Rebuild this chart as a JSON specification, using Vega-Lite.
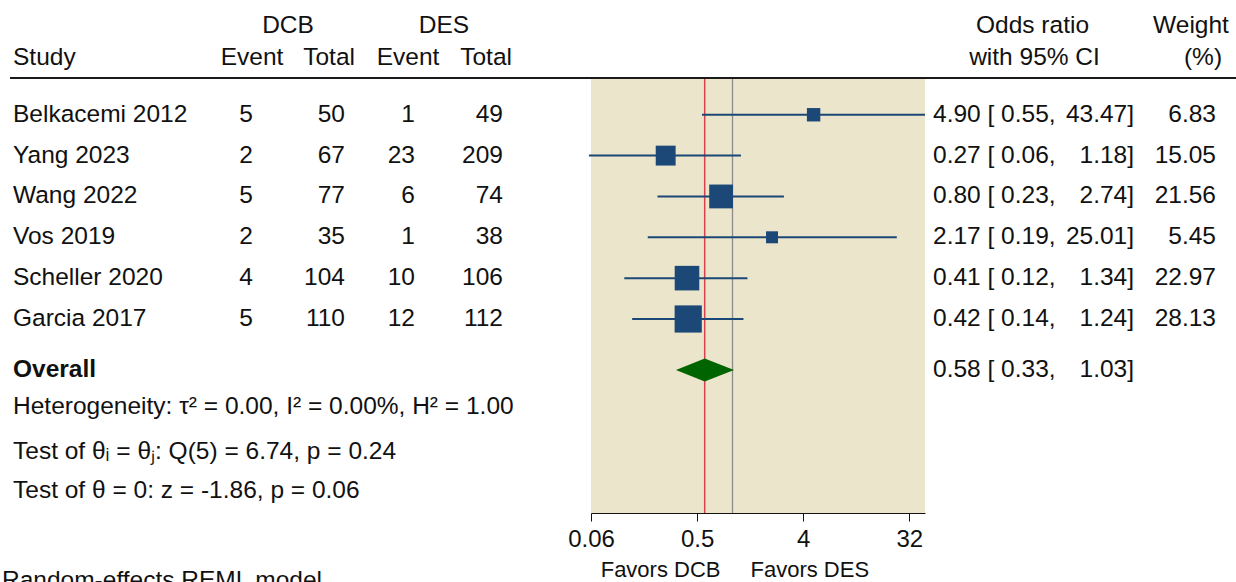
{
  "$schema": "https://vega.github.io/schema/vega-lite/v6.json",
  "padding": {"left": 2, "top": 13, "right": 0, "bottom": 0},
  "autosize": {"type": "pad"},
  "spacing": 0,
  "bounds": "flush",
  "datasets": {
    "one": [{"k": 1}],
    "table": [
      {"row": 1, "kind": "study", "label": "Belkacemi 2012", "dcb_event": 5, "dcb_total": 50, "des_event": 1, "des_total": 49, "or": 4.90, "lo": 0.55, "hi": 43.47, "weight": 6.83, "ci_label": "4.90 [ 0.55,", "hi_label": "43.47]"},
      {"row": 2, "kind": "study", "label": "Yang 2023", "dcb_event": 2, "dcb_total": 67, "des_event": 23, "des_total": 209, "or": 0.27, "lo": 0.06, "hi": 1.18, "weight": 15.05, "ci_label": "0.27 [ 0.06,", "hi_label": "1.18]"},
      {"row": 3, "kind": "study", "label": "Wang 2022", "dcb_event": 5, "dcb_total": 77, "des_event": 6, "des_total": 74, "or": 0.80, "lo": 0.23, "hi": 2.74, "weight": 21.56, "ci_label": "0.80 [ 0.23,", "hi_label": "2.74]"},
      {"row": 4, "kind": "study", "label": "Vos 2019", "dcb_event": 2, "dcb_total": 35, "des_event": 1, "des_total": 38, "or": 2.17, "lo": 0.19, "hi": 25.01, "weight": 5.45, "ci_label": "2.17 [ 0.19,", "hi_label": "25.01]"},
      {"row": 5, "kind": "study", "label": "Scheller 2020", "dcb_event": 4, "dcb_total": 104, "des_event": 10, "des_total": 106, "or": 0.41, "lo": 0.12, "hi": 1.34, "weight": 22.97, "ci_label": "0.41 [ 0.12,", "hi_label": "1.34]"},
      {"row": 6, "kind": "study", "label": "Garcia 2017", "dcb_event": 5, "dcb_total": 110, "des_event": 12, "des_total": 112, "or": 0.42, "lo": 0.14, "hi": 1.24, "weight": 28.13, "ci_label": "0.42 [ 0.14,", "hi_label": "1.24]"},
      {"row": 7.25, "kind": "overall", "label": "Overall", "or": 0.58, "lo": 0.33, "hi": 1.03, "ci_label": "0.58 [ 0.33,", "hi_label": "1.03]"},
      {"row": 8.15, "kind": "stat", "label": "Heterogeneity: τ² = 0.00, I² = 0.00%, H² = 1.00"},
      {"row": 9.25, "kind": "stat", "label": "Test of θᵢ = θⱼ: Q(5) = 6.74, p = 0.24"},
      {"row": 10.2, "kind": "stat", "label": "Test of θ = 0: z = -1.86, p = 0.06"}
    ],
    "diamond": [
      {"x": 0.33, "ytop": 7.25, "ybot": 7.25},
      {"x": 0.58, "ytop": 6.97, "ybot": 7.53},
      {"x": 1.03, "ytop": 7.25, "ybot": 7.25}
    ],
    "nullline": [{"x": 1}]
  },
  "hconcat": [
    {
      "width": 180, "height": 435,
      "layer": [
        {"data": {"name": "one"}, "mark": {"type": "rule", "color": "#1a1a1a", "strokeWidth": 2}, "encoding": {"y": {"datum": 0.1, "type": "quantitative", "scale": {"domain": [0.1, 10.75], "reverse": true, "zero": false, "nice": false}, "axis": null}}},
        {"data": {"name": "one"}, "mark": {"type": "text", "text": "Study", "align": "left", "dx": 3}, "encoding": {"x": {"value": 0}, "y": {"datum": -0.38, "type": "quantitative"}}},
        {"data": {"name": "table"}, "transform": [{"filter": "datum.kind != 'overall'"}], "mark": {"type": "text", "align": "left", "dx": 3}, "encoding": {"x": {"value": 0}, "y": {"field": "row", "type": "quantitative"}, "text": {"field": "label"}}},
        {"data": {"name": "table"}, "transform": [{"filter": "datum.kind == 'overall'"}], "mark": {"type": "text", "align": "left", "dx": 3, "fontWeight": "bold"}, "encoding": {"x": {"value": 0}, "y": {"field": "row", "type": "quantitative"}, "text": {"field": "label"}}},
        {"data": {"name": "one"}, "mark": {"type": "text", "text": "Random-effects REML model", "align": "left", "dx": -8}, "encoding": {"x": {"value": 0}, "y": {"datum": 12.41, "type": "quantitative"}}}
      ]
    },
    {
      "width": 63, "height": 435,
      "layer": [
        {"data": {"name": "one"}, "mark": {"type": "rule", "color": "#1a1a1a", "strokeWidth": 2}, "encoding": {"y": {"datum": 0.1, "type": "quantitative", "scale": {"domain": [0.1, 10.75], "reverse": true, "zero": false, "nice": false}, "axis": null}}},
        {"data": {"name": "one"}, "mark": {"type": "text", "text": "Event", "align": "center", "dx": -1}, "encoding": {"x": {"value": "width"}, "y": {"datum": -0.38, "type": "quantitative"}}},
        {"data": {"name": "table"}, "transform": [{"filter": "datum.kind == 'study'"}], "mark": {"type": "text", "align": "right"}, "encoding": {"x": {"value": "width"}, "y": {"field": "row", "type": "quantitative"}, "text": {"field": "dcb_event", "type": "quantitative"}}}
      ]
    },
    {
      "width": 92, "height": 435,
      "layer": [
        {"data": {"name": "one"}, "mark": {"type": "rule", "color": "#1a1a1a", "strokeWidth": 2}, "encoding": {"y": {"datum": 0.1, "type": "quantitative", "scale": {"domain": [0.1, 10.75], "reverse": true, "zero": false, "nice": false}, "axis": null}}},
        {"data": {"name": "one"}, "mark": {"type": "text", "text": "DCB", "align": "center", "dx": -11}, "encoding": {"y": {"datum": -1.17, "type": "quantitative"}}},
        {"data": {"name": "one"}, "mark": {"type": "text", "text": "Total", "align": "right", "dx": 10}, "encoding": {"x": {"value": "width"}, "y": {"datum": -0.38, "type": "quantitative"}}},
        {"data": {"name": "table"}, "transform": [{"filter": "datum.kind == 'study'"}], "mark": {"type": "text", "align": "right"}, "encoding": {"x": {"value": "width"}, "y": {"field": "row", "type": "quantitative"}, "text": {"field": "dcb_total", "type": "quantitative"}}}
      ]
    },
    {
      "width": 70, "height": 435,
      "layer": [
        {"data": {"name": "one"}, "mark": {"type": "rule", "color": "#1a1a1a", "strokeWidth": 2}, "encoding": {"y": {"datum": 0.1, "type": "quantitative", "scale": {"domain": [0.1, 10.75], "reverse": true, "zero": false, "nice": false}, "axis": null}}},
        {"data": {"name": "one"}, "mark": {"type": "text", "text": "Event", "align": "center", "dx": -7}, "encoding": {"x": {"value": "width"}, "y": {"datum": -0.38, "type": "quantitative"}}},
        {"data": {"name": "table"}, "transform": [{"filter": "datum.kind == 'study'"}], "mark": {"type": "text", "align": "right"}, "encoding": {"x": {"value": "width"}, "y": {"field": "row", "type": "quantitative"}, "text": {"field": "des_event", "type": "quantitative"}}}
      ]
    },
    {
      "width": 88, "height": 435,
      "layer": [
        {"data": {"name": "one"}, "mark": {"type": "rule", "color": "#1a1a1a", "strokeWidth": 2}, "encoding": {"y": {"datum": 0.1, "type": "quantitative", "scale": {"domain": [0.1, 10.75], "reverse": true, "zero": false, "nice": false}, "axis": null}}},
        {"data": {"name": "one"}, "mark": {"type": "text", "text": "DES", "align": "center", "dx": -15}, "encoding": {"y": {"datum": -1.17, "type": "quantitative"}}},
        {"data": {"name": "one"}, "mark": {"type": "text", "text": "Total", "align": "right", "dx": 9}, "encoding": {"x": {"value": "width"}, "y": {"datum": -0.38, "type": "quantitative"}}},
        {"data": {"name": "table"}, "transform": [{"filter": "datum.kind == 'study'"}], "mark": {"type": "text", "align": "right"}, "encoding": {"x": {"value": "width"}, "y": {"field": "row", "type": "quantitative"}, "text": {"field": "des_total", "type": "quantitative"}}}
      ]
    },
    {
      "width": 88, "height": 435,
      "layer": [
        {"data": {"name": "one"}, "mark": {"type": "rule", "color": "#1a1a1a", "strokeWidth": 2}, "encoding": {"y": {"datum": 0.1, "type": "quantitative", "scale": {"domain": [0.1, 10.75], "reverse": true, "zero": false, "nice": false}, "axis": null}}}
      ]
    },
    {
      "width": 334, "height": 435,
      "view": {"fill": "#eae5cb", "stroke": null},
      "layer": [
        {"data": {"name": "nullline"}, "mark": {"type": "rule", "color": "#8c8c8c", "strokeWidth": 1.3}, "encoding": {"x": {"field": "x", "type": "quantitative", "scale": {"type": "log", "base": 2, "domain": [0.0625, 43.47], "nice": false}, "axis": {"values": [0.0625, 0.5, 4, 32], "labelExpr": "datum.value < 0.1 ? '0.06' : toString(datum.value)", "title": null, "grid": false, "tickSize": 8, "labelPadding": 6, "labelFontSize": 24, "labelFont": "Liberation Sans", "labelColor": "#111", "domainColor": "#111", "tickColor": "#111", "labelFlush": false, "labelOverlap": false}}}},
        {"data": {"name": "table"}, "transform": [{"filter": "datum.kind == 'overall'"}], "mark": {"type": "rule", "color": "#d9414f", "strokeWidth": 1.5}, "encoding": {"x": {"field": "or", "type": "quantitative", "axis": {"values": [0.0625, 0.5, 4, 32], "labelExpr": "datum.value < 0.1 ? '0.06' : toString(datum.value)", "title": null, "grid": false, "tickSize": 8, "labelPadding": 6, "labelFontSize": 24, "labelFont": "Liberation Sans", "labelColor": "#111", "domainColor": "#111", "tickColor": "#111", "labelFlush": false, "labelOverlap": false}}}},
        {"data": {"name": "one"}, "mark": {"type": "rule", "color": "#1a1a1a", "strokeWidth": 2}, "encoding": {"y": {"datum": 0.1, "type": "quantitative", "scale": {"domain": [0.1, 10.75], "reverse": true, "zero": false, "nice": false}, "axis": null}}},
        {"data": {"name": "table"}, "transform": [{"filter": "datum.kind == 'study'"}], "mark": {"type": "rule", "color": "#1c4877", "strokeWidth": 2}, "encoding": {"x": {"field": "lo", "type": "quantitative", "axis": {"values": [0.0625, 0.5, 4, 32], "labelExpr": "datum.value < 0.1 ? '0.06' : toString(datum.value)", "title": null, "grid": false, "tickSize": 8, "labelPadding": 6, "labelFontSize": 24, "labelFont": "Liberation Sans", "labelColor": "#111", "domainColor": "#111", "tickColor": "#111", "labelFlush": false, "labelOverlap": false}}, "x2": {"field": "hi"}, "y": {"field": "row", "type": "quantitative"}}},
        {"data": {"name": "table"}, "transform": [{"filter": "datum.kind == 'study'"}], "mark": {"type": "point", "shape": "square", "filled": true, "opacity": 1, "color": "#1c4877", "strokeWidth": 0}, "encoding": {"x": {"field": "or", "type": "quantitative", "axis": {"values": [0.0625, 0.5, 4, 32], "labelExpr": "datum.value < 0.1 ? '0.06' : toString(datum.value)", "title": null, "grid": false, "tickSize": 8, "labelPadding": 6, "labelFontSize": 24, "labelFont": "Liberation Sans", "labelColor": "#111", "domainColor": "#111", "tickColor": "#111", "labelFlush": false, "labelOverlap": false}}, "y": {"field": "row", "type": "quantitative"}, "size": {"field": "weight", "type": "quantitative", "scale": {"type": "linear", "domain": [0, 28.13], "range": [0, 740], "zero": true}, "legend": null}}},
        {"data": {"name": "diamond"}, "mark": {"type": "area", "orient": "vertical", "color": "#006400", "opacity": 1, "interpolate": "linear"}, "encoding": {"x": {"field": "x", "type": "quantitative", "axis": {"values": [0.0625, 0.5, 4, 32], "labelExpr": "datum.value < 0.1 ? '0.06' : toString(datum.value)", "title": null, "grid": false, "tickSize": 8, "labelPadding": 6, "labelFontSize": 24, "labelFont": "Liberation Sans", "labelColor": "#111", "domainColor": "#111", "tickColor": "#111", "labelFlush": false, "labelOverlap": false}}, "y": {"field": "ytop", "type": "quantitative"}, "y2": {"field": "ybot"}}},
        {"data": {"name": "one"}, "mark": {"type": "text", "text": "Favors DCB", "align": "right", "dx": -12, "fontSize": 22}, "encoding": {"x": {"datum": 1, "type": "quantitative"}, "y": {"datum": 12.15, "type": "quantitative"}}},
        {"data": {"name": "one"}, "mark": {"type": "text", "text": "Favors DES", "align": "left", "dx": 18, "fontSize": 22}, "encoding": {"x": {"datum": 1, "type": "quantitative"}, "y": {"datum": 12.15, "type": "quantitative"}}}
      ]
    },
    {
      "width": 209, "height": 435,
      "layer": [
        {"data": {"name": "one"}, "mark": {"type": "rule", "color": "#1a1a1a", "strokeWidth": 2}, "encoding": {"y": {"datum": 0.1, "type": "quantitative", "scale": {"domain": [0.1, 10.75], "reverse": true, "zero": false, "nice": false}, "axis": null}}},
        {"data": {"name": "one"}, "mark": {"type": "text", "text": "Odds ratio", "align": "center", "dx": 3}, "encoding": {"y": {"datum": -1.17, "type": "quantitative"}}},
        {"data": {"name": "one"}, "mark": {"type": "text", "text": "with 95% CI", "align": "center", "dx": 5}, "encoding": {"y": {"datum": -0.38, "type": "quantitative"}}},
        {"data": {"name": "table"}, "transform": [{"filter": "datum.kind != 'stat'"}], "mark": {"type": "text", "align": "left", "dx": 8}, "encoding": {"x": {"value": 0}, "y": {"field": "row", "type": "quantitative"}, "text": {"field": "ci_label"}}},
        {"data": {"name": "table"}, "transform": [{"filter": "datum.kind != 'stat'"}], "mark": {"type": "text", "align": "right"}, "encoding": {"x": {"value": "width"}, "y": {"field": "row", "type": "quantitative"}, "text": {"field": "hi_label"}}}
      ]
    },
    {
      "width": 82, "height": 435,
      "layer": [
        {"data": {"name": "one"}, "mark": {"type": "rule", "color": "#1a1a1a", "strokeWidth": 2}, "encoding": {"y": {"datum": 0.1, "type": "quantitative", "scale": {"domain": [0.1, 10.75], "reverse": true, "zero": false, "nice": false}, "axis": null}}},
        {"data": {"name": "one"}, "mark": {"type": "text", "text": "Weight", "align": "center", "dx": 16}, "encoding": {"y": {"datum": -1.17, "type": "quantitative"}}},
        {"data": {"name": "one"}, "mark": {"type": "text", "text": "(%)", "align": "center", "dx": 28}, "encoding": {"y": {"datum": -0.38, "type": "quantitative"}}},
        {"data": {"name": "table"}, "transform": [{"filter": "datum.kind == 'study'"}], "mark": {"type": "text", "align": "right"}, "encoding": {"x": {"value": "width"}, "y": {"field": "row", "type": "quantitative"}, "text": {"field": "weight", "type": "quantitative", "format": ".2f"}}}
      ]
    },
    {
      "width": 28, "height": 435,
      "layer": [
        {"data": {"name": "one"}, "mark": {"type": "rule", "color": "#1a1a1a", "strokeWidth": 2}, "encoding": {"y": {"datum": 0.1, "type": "quantitative", "scale": {"domain": [0.1, 10.75], "reverse": true, "zero": false, "nice": false}, "axis": null}}}
      ]
    }
  ],
  "config": {
    "font": "Liberation Sans",
    "view": {"stroke": null},
    "concat": {"spacing": 0},
    "text": {"fontSize": 24.5, "color": "#111", "font": "Liberation Sans"}
  }
}
